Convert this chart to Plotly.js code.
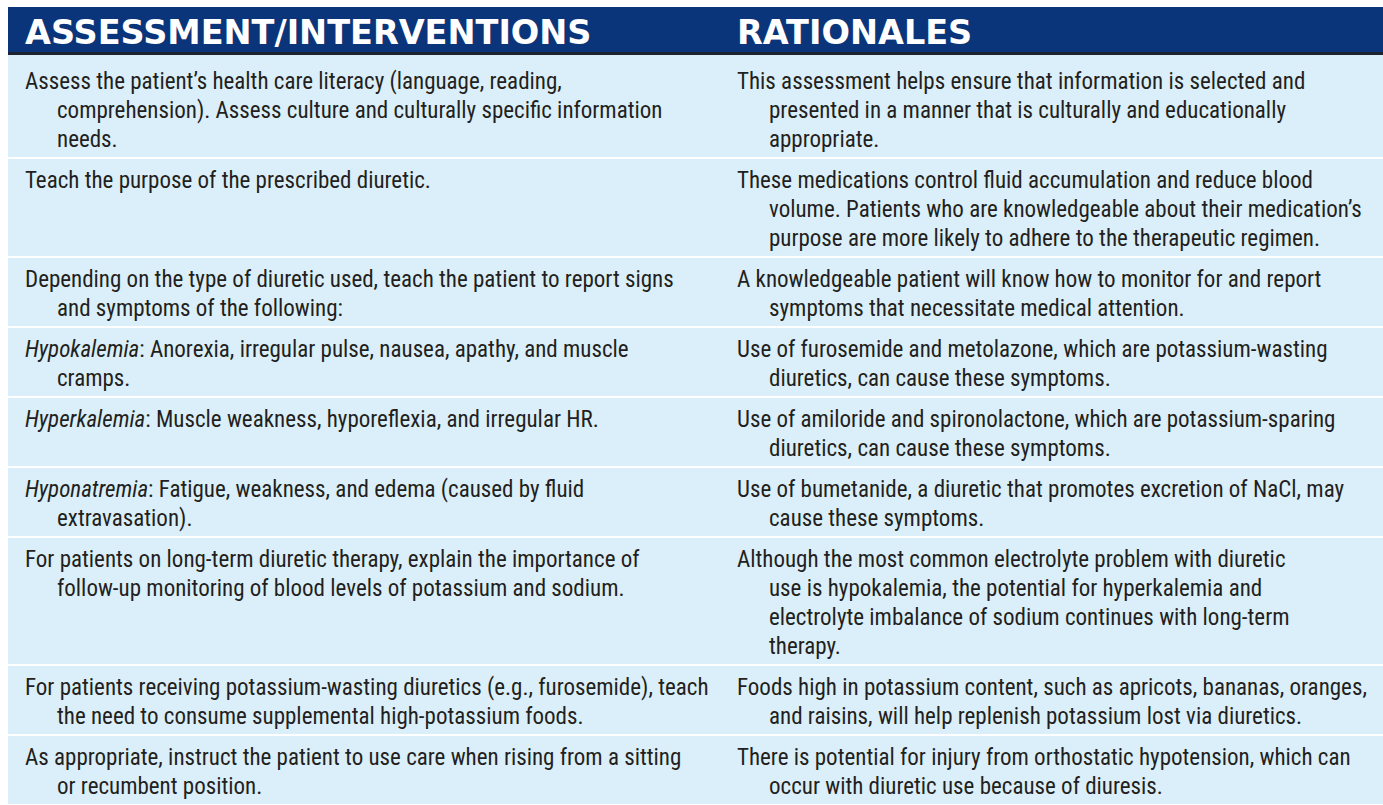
<!DOCTYPE html>
<html><head><meta charset="utf-8">
<script src="https://cdn.plot.ly/plotly-3.0.1.min.js"></script>
<style>html,body{margin:0;padding:0;background:#fff;overflow:hidden}</style>
</head><body><div id="chart" style="width:1383px;height:805px"></div>
<script>
// ---------- DATA ----------
const headers = ["ASSESSMENT/INTERVENTIONS", "RATIONALES"];

const interventions = [
  ["Assess the patient\u2019s health care literacy (language, reading,",
   "comprehension). Assess culture and culturally specific information",
   "needs."],
  ["Teach the purpose of the prescribed diuretic."],
  ["Depending on the type of diuretic used, teach the patient to report signs",
   "and symptoms of the following:"],
  ["<i>Hypokalemia</i>: Anorexia, irregular pulse, nausea, apathy, and muscle",
   "cramps."],
  ["<i>Hyperkalemia</i>: Muscle weakness, hyporeflexia, and irregular HR."],
  ["<i>Hyponatremia</i>: Fatigue, weakness, and edema (caused by fluid",
   "extravasation)."],
  ["For patients on long-term diuretic therapy, explain the importance of",
   "follow-up monitoring of blood levels of potassium and sodium."],
  ["For patients receiving potassium-wasting diuretics (e.g., furosemide), teach",
   "the need to consume supplemental high-potassium foods."],
  ["As appropriate, instruct the patient to use care when rising from a sitting",
   "or recumbent position."]
];

const rationales = [
  ["This assessment helps ensure that information is selected and",
   "presented in a manner that is culturally and educationally",
   "appropriate."],
  ["These medications control fluid accumulation and reduce blood",
   "volume. Patients who are knowledgeable about their medication\u2019s",
   "purpose are more likely to adhere to the therapeutic regimen."],
  ["A knowledgeable patient will know how to monitor for and report",
   "symptoms that necessitate medical attention."],
  ["Use of furosemide and metolazone, which are potassium-wasting",
   "diuretics, can cause these symptoms."],
  ["Use of amiloride and spironolactone, which are potassium-sparing",
   "diuretics, can cause these symptoms."],
  ["Use of bumetanide, a diuretic that promotes excretion of NaCl, may",
   "cause these symptoms."],
  ["Although the most common electrolyte problem with diuretic",
   "use is hypokalemia, the potential for hyperkalemia and",
   "electrolyte imbalance of sodium continues with long-term",
   "therapy."],
  ["Foods high in potassium content, such as apricots, bananas, oranges,",
   "and raisins, will help replenish potassium lost via diuretics."],
  ["There is potential for injury from orthostatic hypotension, which can",
   "occur with diuretic use because of diuresis."]
];

// ---------- STYLE / LAYOUT CONSTANTS ----------
const W = 1383, H = 805;
const tableLeft = 8, tableTop = 7, headerH = 45, headerRule = 3;
const lineH = 29, rowPad = 10, firstExtra = 5, gap = 2, textTop = 23;
const colX = [25, 737], indent = 32;
const HEAD_BG = "#0b357a", RULE = "#1e2330", CELL_BG = "#dbeffa", TXT = "#231f20";
const bodyFont = '"Roboto Condensed", "Liberation Sans", sans-serif';

// ---------- BUILD ----------
const cols = [interventions, rationales];
const rowY = [], rowH = [];
const tx = [], ty = [], tt = [];
let y = tableTop + headerH + headerRule;
interventions.forEach((_, i) => {
  const n = Math.max(interventions[i].length, rationales[i].length);
  const extra = i === 0 ? firstExtra : 0;
  const h = n * lineH + rowPad + extra;
  rowY.push(y + h / 2); rowH.push(h);
  cols.forEach((col, c) => {
    col[i].forEach((line, k) => {
      tx.push(colX[c] + (k > 0 ? indent : 0));
      ty.push(y + textTop + extra + k * lineH);
      tt.push(line);
    });
  });
  y += h + gap;
});

const barLen = W - tableLeft + 20;
const traces = [
  { type: "bar", orientation: "h", base: tableLeft,
    y: rowY, x: rowY.map(() => barLen), width: rowH,
    marker: { color: CELL_BG, line: { width: 0 } }, hoverinfo: "skip" },
  { type: "bar", orientation: "h", base: tableLeft,
    y: [tableTop + headerH / 2], x: [barLen], width: [headerH],
    marker: { color: HEAD_BG, line: { width: 0 } }, hoverinfo: "skip" },
  { type: "bar", orientation: "h", base: tableLeft,
    y: [tableTop + headerH + headerRule / 2], x: [barLen], width: [headerRule],
    marker: { color: RULE, line: { width: 0 } }, hoverinfo: "skip" },
  { type: "scatter", mode: "text", x: colX, y: headers.map(() => tableTop + headerH / 2 + 6),
    text: headers, textposition: "middle right", cliponaxis: false,
    textfont: { family: '"DejaVu Sans", sans-serif', size: 33.5, weight: 700, color: "#ffffff" },
    hoverinfo: "skip" },
  { type: "scatter", mode: "text", x: tx, y: ty, text: tt,
    textposition: "middle right", cliponaxis: false,
    textfont: { family: bodyFont, size: 23, color: TXT }, hoverinfo: "skip" }
];

const layout = {
  width: W, height: H, margin: { l: 0, r: 0, t: 0, b: 0, pad: 0 },
  paper_bgcolor: "#ffffff", plot_bgcolor: "#ffffff",
  showlegend: false, barmode: "overlay", bargap: 0,
  xaxis: { range: [0, W], visible: false, fixedrange: true },
  yaxis: { range: [H, 0], visible: false, fixedrange: true }
};

Plotly.newPlot("chart", traces, layout, { staticPlot: true, displayModeBar: false });
</script>
</body></html>
